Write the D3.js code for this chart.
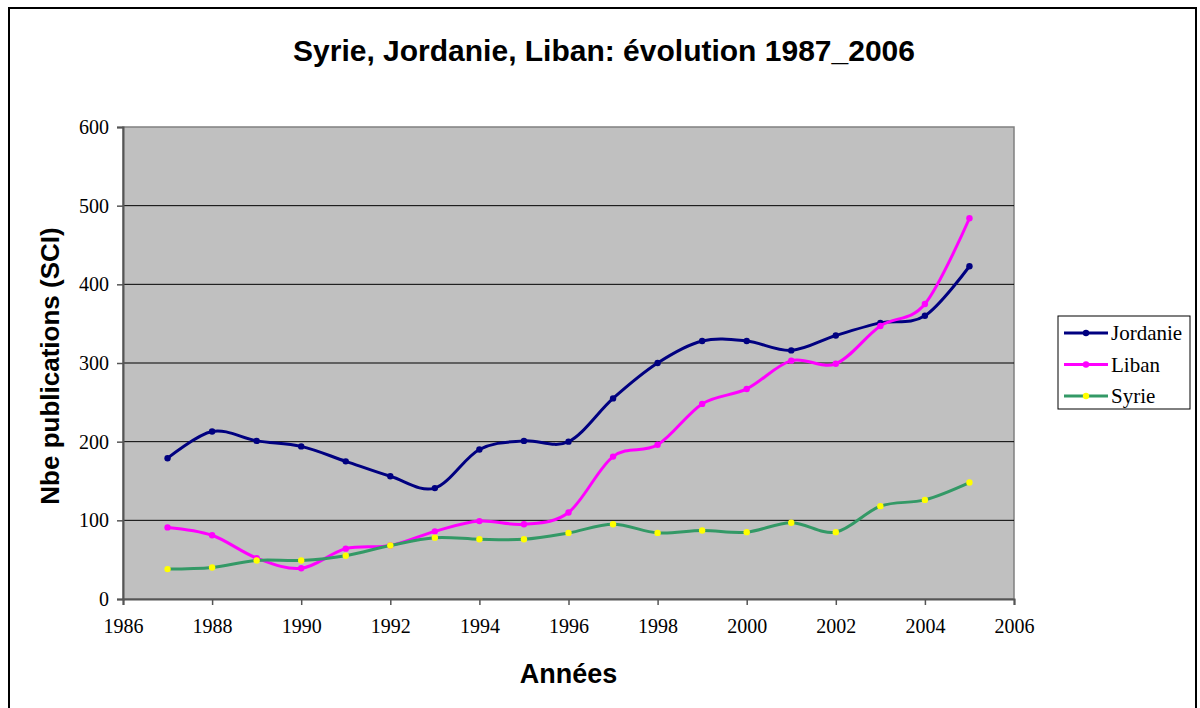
<!DOCTYPE html>
<html>
<head>
<meta charset="utf-8">
<script src="https://cdn.jsdelivr.net/npm/d3@7"></script>
<style>
  body { margin: 0; background: #fff; }
</style>
</head>
<body>
<script>
// years on the x axis
var years = [1987, 1988, 1989, 1990, 1991, 1992, 1993, 1994, 1995, 1996,
             1997, 1998, 1999, 2000, 2001, 2002, 2003, 2004, 2005];
// publications per country
var jordanie = [179, 213, 201, 194, 175, 156, 141, 190, 201, 200,
                255, 300, 328, 328, 316, 335, 351, 360, 423];
var liban = [91, 81, 52, 39, 64, 68, 86, 99, 95, 110,
             181, 196, 248, 267, 303, 299, 347, 375, 484];
var syrie = [38, 40, 49, 49, 55, 68, 78, 76, 76, 84,
             95, 84, 87, 85, 97, 85, 118, 126, 148];
var seriesNames = ['Jordanie', 'Liban', 'Syrie'];
var xTicks = [1986, 1988, 1990, 1992, 1994, 1996, 1998, 2000, 2002, 2004, 2006];
var yTicks = [0, 100, 200, 300, 400, 500, 600];

var width = 1200,
	height = 708;
// plot box (note: "top" is reserved on window, so use plotTop)
var plotLeft = 123, plotRight = 1014, plotTop = 127, plotBottom = 599;

var series = [
	{name: seriesNames[0], values: jordanie, line: '#000080', marker: '#000080'},
	{name: seriesNames[1], values: liban, line: '#ff00ff', marker: '#ff00ff'},
	{name: seriesNames[2], values: syrie, line: '#339966', marker: '#ffff00'}
];

var svg = d3.select('body').append('svg')
	.attr('width', width)
	.attr('height', height);

// outer frame
svg.append('rect')
	.attr('x', 9).attr('y', 8)
	.attr('width', 1187).attr('height', 720)
	.attr('fill', '#fff')
	.attr('stroke', '#000')
	.attr('stroke-width', 2);

var xScale = d3.scaleLinear()
	.domain([1986, 2006])
	.range([plotLeft, plotRight]);

var yScale = d3.scaleLinear()
	.domain([0, 600])
	.range([plotBottom, plotTop]);

// plot area
svg.append('rect')
	.attr('x', plotLeft).attr('y', plotTop)
	.attr('width', plotRight - plotLeft).attr('height', plotBottom - plotTop)
	.attr('fill', '#c0c0c0')
	.attr('stroke', '#808080')
	.attr('stroke-width', 1.5);

// gridlines
svg.append('g')
	.selectAll('line')
	.data(yTicks.filter(function(d){ return d > 0 && d < 600; }))
	.enter().append('line')
		.attr('x1', plotLeft).attr('x2', plotRight)
		.attr('y1', function(d){ return yScale(d); })
		.attr('y2', function(d){ return yScale(d); })
		.attr('stroke', '#000')
		.attr('stroke-width', 1);

// axes
var yAxis = svg.append('g')
	.attr('transform', 'translate(' + plotLeft + ',0)')
	.call(d3.axisLeft(yScale).tickValues(yTicks).tickSize(6).tickPadding(8));
var xAxis = svg.append('g')
	.attr('transform', 'translate(0,' + plotBottom + ')')
	.call(d3.axisBottom(xScale).tickValues(xTicks).tickFormat(d3.format('d')).tickSize(6).tickPadding(14));

[xAxis, yAxis].forEach(function(ax){
	ax.select('.domain').attr('stroke', '#555').attr('stroke-width', 2);
	ax.selectAll('.tick line').attr('stroke', '#555').attr('stroke-width', 1.5);
	ax.selectAll('.tick text')
		.attr('fill', '#000')
		.style('font-family', '"Liberation Serif", "DejaVu Serif", serif')
		.style('font-size', '20px');
});

// lines, smoothed like the original
var line = d3.line()
	.x(function(d, i){ return xScale(years[i]); })
	.y(function(d){ return yScale(d); })
	.curve(d3.curveCardinal.tension(0));

series.forEach(function(s){
	svg.append('path')
		.attr('d', line(s.values))
		.attr('fill', 'none')
		.attr('stroke', s.line)
		.attr('stroke-width', 3);
	svg.append('g')
		.selectAll('circle')
		.data(s.values)
		.enter().append('circle')
			.attr('cx', function(d, i){ return xScale(years[i]); })
			.attr('cy', function(d){ return yScale(d); })
			.attr('r', 3.2)
			.attr('fill', s.marker);
});

// titles
svg.append('text')
	.attr('x', 604).attr('y', 61)
	.attr('text-anchor', 'middle')
	.style('font-family', '"Liberation Sans", Arial, sans-serif')
	.style('font-weight', 'bold')
	.style('font-size', '30px')
	.text('Syrie, Jordanie, Liban: évolution 1987_2006');

svg.append('text')
	.attr('x', (plotLeft + plotRight) / 2).attr('y', 683)
	.attr('text-anchor', 'middle')
	.style('font-family', '"Liberation Sans", Arial, sans-serif')
	.style('font-weight', 'bold')
	.style('font-size', '27px')
	.text('Années');

svg.append('text')
	.attr('transform', 'translate(50,' + ((plotTop + plotBottom) / 2 + 3) + ') rotate(-90)')
	.attr('text-anchor', 'middle')
	.attr('dy', '0.35em')
	.style('font-family', '"Liberation Sans", Arial, sans-serif')
	.style('font-weight', 'bold')
	.style('font-size', '26px')
	.text('Nbe publications (SCI)');

// legend
var legend = svg.append('g');
legend.append('rect')
	.attr('x', 1058).attr('y', 316)
	.attr('width', 132).attr('height', 93)
	.attr('fill', '#fff')
	.attr('stroke', '#000')
	.attr('stroke-width', 1);

var rows = legend.selectAll('g.row')
	.data(series)
	.enter().append('g')
		.attr('class', 'row')
		.attr('transform', function(d, i){ return 'translate(0,' + (333 + i * 31.5) + ')'; });
rows.append('line')
	.attr('x1', 1064).attr('x2', 1108)
	.attr('stroke', function(d){ return d.line; })
	.attr('stroke-width', 3);
rows.append('circle')
	.attr('cx', 1086).attr('r', 3.2)
	.attr('fill', function(d){ return d.marker; });
rows.append('text')
	.attr('x', 1111).attr('dy', '0.35em')
	.style('font-family', '"Liberation Serif", "DejaVu Serif", serif')
	.style('font-size', '21px')
	.text(function(d){ return d.name; });
</script>
</body>
</html>
